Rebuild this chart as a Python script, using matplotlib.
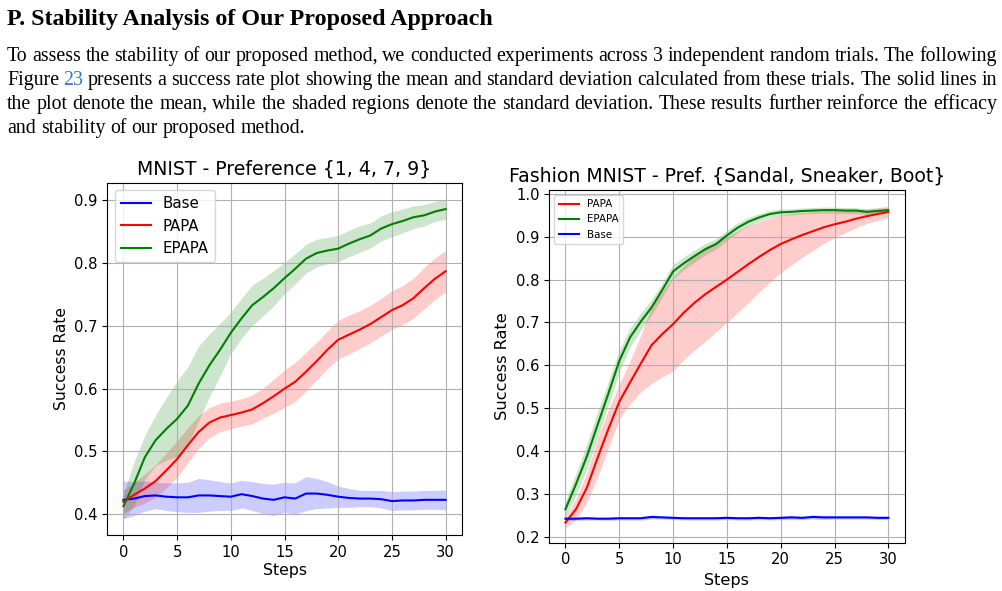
import matplotlib
matplotlib.use('Agg')
import matplotlib.pyplot as plt
from matplotlib.ticker import MultipleLocator

##### DATA #####

steps = list(range(31))

# MNIST - Preference {1, 4, 7, 9}
mnist_base_mean = [0.423, 0.425, 0.429, 0.430, 0.428, 0.427, 0.427, 0.430, 0.430, 0.429, 0.428, 0.432, 0.429, 0.425, 0.423,
                   0.427, 0.425, 0.433, 0.433, 0.431, 0.428, 0.426, 0.425, 0.425, 0.424, 0.421, 0.422, 0.422, 0.423, 0.423, 0.423]
mnist_base_std = [0.030, 0.027, 0.024, 0.021, 0.022, 0.023, 0.024, 0.027, 0.025, 0.023, 0.022, 0.022, 0.023, 0.024, 0.025,
                  0.024, 0.025, 0.027, 0.024, 0.021, 0.017, 0.015, 0.013, 0.013, 0.014, 0.015, 0.015, 0.015, 0.015, 0.015, 0.016]
mnist_papa_mean = [0.420, 0.431, 0.441, 0.453, 0.470, 0.488, 0.510, 0.531, 0.546, 0.554, 0.558, 0.562, 0.567, 0.577, 0.588,
                   0.600, 0.611, 0.627, 0.644, 0.662, 0.678, 0.686, 0.694, 0.703, 0.714, 0.725, 0.733, 0.744, 0.760, 0.775, 0.787]
mnist_papa_std = [0.018, 0.020, 0.023, 0.026, 0.028, 0.029, 0.028, 0.026, 0.024, 0.023, 0.022, 0.022, 0.023, 0.024, 0.027,
                  0.030, 0.031, 0.031, 0.030, 0.030, 0.031, 0.031, 0.030, 0.030, 0.030, 0.031, 0.031, 0.032, 0.033, 0.033, 0.033]
mnist_epapa_mean = [0.413, 0.449, 0.491, 0.518, 0.536, 0.552, 0.573, 0.608, 0.637, 0.662, 0.689, 0.712, 0.733, 0.746, 0.760,
                    0.776, 0.791, 0.807, 0.816, 0.820, 0.823, 0.831, 0.838, 0.844, 0.855, 0.862, 0.867, 0.873, 0.876, 0.882, 0.886]
mnist_epapa_std = [0.020, 0.035, 0.035, 0.040, 0.050, 0.060, 0.062, 0.060, 0.050, 0.042, 0.033, 0.032, 0.032, 0.030, 0.028,
                   0.025, 0.024, 0.023, 0.022, 0.021, 0.021, 0.021, 0.021, 0.020, 0.020, 0.020, 0.019, 0.018, 0.017, 0.016, 0.016]

# Fashion MNIST - Pref. {Sandal, Sneaker, Boot}
fashion_papa_mean = [0.233, 0.265, 0.315, 0.385, 0.452, 0.515, 0.560, 0.604, 0.647, 0.673, 0.696, 0.723, 0.746, 0.766, 0.783,
                     0.800, 0.818, 0.836, 0.853, 0.869, 0.883, 0.894, 0.904, 0.913, 0.922, 0.929, 0.935, 0.942, 0.948, 0.953, 0.958]
fashion_papa_std = [0.012, 0.025, 0.035, 0.045, 0.045, 0.040, 0.050, 0.066, 0.090, 0.100, 0.110, 0.110, 0.110, 0.110, 0.105,
                    0.100, 0.095, 0.090, 0.082, 0.075, 0.067, 0.060, 0.052, 0.045, 0.038, 0.031, 0.026, 0.021, 0.017, 0.015, 0.013]
fashion_epapa_mean = [0.264, 0.324, 0.388, 0.462, 0.535, 0.610, 0.665, 0.702, 0.735, 0.776, 0.819, 0.838, 0.855, 0.871, 0.883,
                      0.903, 0.921, 0.935, 0.945, 0.953, 0.957, 0.958, 0.960, 0.961, 0.962, 0.962, 0.961, 0.961, 0.958, 0.960, 0.962]
fashion_epapa_std = [0.020, 0.025, 0.030, 0.030, 0.028, 0.025, 0.022, 0.020, 0.018, 0.017, 0.016, 0.015, 0.014, 0.013, 0.012,
                     0.012, 0.011, 0.010, 0.009, 0.008, 0.008, 0.007, 0.007, 0.007, 0.007, 0.007, 0.007, 0.007, 0.006, 0.006, 0.006]
fashion_base_mean = [0.242, 0.242, 0.243, 0.242, 0.242, 0.243, 0.243, 0.243, 0.246, 0.245, 0.244, 0.243, 0.243, 0.243, 0.243,
                     0.244, 0.243, 0.243, 0.244, 0.243, 0.244, 0.245, 0.244, 0.246, 0.245, 0.245, 0.245, 0.245, 0.245, 0.244, 0.244]
fashion_base_std = [0.004, 0.004, 0.004, 0.003, 0.004, 0.004, 0.004, 0.004, 0.005, 0.004, 0.004, 0.004, 0.004, 0.004, 0.004,
                    0.004, 0.004, 0.004, 0.004, 0.004, 0.004, 0.005, 0.004, 0.005, 0.005, 0.004, 0.004, 0.004, 0.004, 0.004, 0.004]

heading = "P. Stability Analysis of Our Proposed Approach"
paragraph = [
    "To assess the stability of our proposed method, we conducted experiments across 3 independent random trials. The following",
    "Figure 23 presents a success rate plot showing the mean and standard deviation calculated from these trials. The solid lines in",
    "the plot denote the mean, while the shaded regions denote the standard deviation. These results further reinforce the efficacy",
    "and stability of our proposed method.",
]
link_word = "23"

##### FIGURE #####

W, H = 1002, 591
fig = plt.figure(figsize=(W / 100, H / 100), dpi=100)
renderer = fig.canvas.get_renderer()
SERIF = 'Liberation Serif'


def fit_size(text, width_px, **kw):
    # measure at 10pt, then scale to the wanted pixel width
    t = fig.text(0, 0, text, fontsize=10, **kw)
    w = t.get_window_extent(renderer).width
    t.remove()
    return 10 * width_px / w


def draw_line(line, baseline_px, size, left=7, right=997, justify=True):
    words = line.split(' ')
    texts = []
    for w in words:
        color = '#3a78c3' if w == link_word else 'black'
        texts.append(fig.text(0, 1 - baseline_px / H, w, fontsize=size, family=SERIF,
                              color=color, va='baseline', ha='left'))
    widths = [t.get_window_extent(renderer).width for t in texts]
    if justify:
        gap = (right - left - sum(widths)) / (len(words) - 1)
    else:
        gap = 0.25 * size * 100 / 72
    x = left
    for t, wd in zip(texts, widths):
        t.set_x(x / W)
        x += wd + gap


head_size = fit_size(heading, 486, family=SERIF, fontweight='bold')
fig.text(7 / W, 1 - 25 / H, heading, fontsize=head_size, family=SERIF, fontweight='bold', va='baseline')

body_size = fit_size(paragraph[3], 297, family=SERIF)
for i, line in enumerate(paragraph):
    draw_line(line, 61 + 24 * i, body_size, justify=(i < len(paragraph) - 1))

# left: MNIST
ax1 = fig.add_axes([107.3 / W, 1 - 535 / H, (461.7 - 107.3) / W, (535 - 182.7) / H])
lo = [m - s for m, s in zip(mnist_base_mean, mnist_base_std)]
hi = [m + s for m, s in zip(mnist_base_mean, mnist_base_std)]
ax1.plot(steps, mnist_base_mean, color='blue', label='Base')
ax1.fill_between(steps, lo, hi, color='blue', alpha=0.2, lw=0)
lo = [m - s for m, s in zip(mnist_papa_mean, mnist_papa_std)]
hi = [m + s for m, s in zip(mnist_papa_mean, mnist_papa_std)]
ax1.plot(steps, mnist_papa_mean, color='red', label='PAPA')
ax1.fill_between(steps, lo, hi, color='red', alpha=0.2, lw=0)
lo = [m - s for m, s in zip(mnist_epapa_mean, mnist_epapa_std)]
hi = [m + s for m, s in zip(mnist_epapa_mean, mnist_epapa_std)]
ax1.plot(steps, mnist_epapa_mean, color='green', label='EPAPA')
ax1.fill_between(steps, lo, hi, color='green', alpha=0.2, lw=0)

ax1.set_xlim(-1.5, 31.5)
ax1.set_ylim(0.367, 0.928)
ax1.xaxis.set_major_locator(MultipleLocator(5))
ax1.yaxis.set_major_locator(MultipleLocator(0.1))
ax1.grid(True)
ax1.tick_params(labelsize=10.6)
ax1.set_title('MNIST - Preference {1, 4, 7, 9}', fontsize=13.6)
ax1.set_xlabel('Steps', fontsize=11.3, labelpad=2)
ax1.set_ylabel('Success Rate', fontsize=11.2)
ax1.legend(loc='upper left', fontsize=10.8)

# right: Fashion MNIST
ax2 = fig.add_axes([549.3 / W, 1 - 542.7 / H, (904.5 - 549.3) / W, (542.7 - 190) / H])
lo = [m - s for m, s in zip(fashion_papa_mean, fashion_papa_std)]
hi = [m + s for m, s in zip(fashion_papa_mean, fashion_papa_std)]
ax2.plot(steps, fashion_papa_mean, color='red', label='PAPA')
ax2.fill_between(steps, lo, hi, color='red', alpha=0.2, lw=0)
lo = [m - s for m, s in zip(fashion_epapa_mean, fashion_epapa_std)]
hi = [m + s for m, s in zip(fashion_epapa_mean, fashion_epapa_std)]
ax2.plot(steps, fashion_epapa_mean, color='green', label='EPAPA')
ax2.fill_between(steps, lo, hi, color='green', alpha=0.2, lw=0)
lo = [m - s for m, s in zip(fashion_base_mean, fashion_base_std)]
hi = [m + s for m, s in zip(fashion_base_mean, fashion_base_std)]
ax2.plot(steps, fashion_base_mean, color='blue', label='Base')
ax2.fill_between(steps, lo, hi, color='blue', alpha=0.2, lw=0)

ax2.set_xlim(-1.5, 31.5)
ax2.set_ylim(0.186, 1.009)
ax2.xaxis.set_major_locator(MultipleLocator(5))
ax2.yaxis.set_major_locator(MultipleLocator(0.1))
ax2.grid(True)
ax2.tick_params(labelsize=10.6)
ax2.set_title('Fashion MNIST - Pref. {Sandal, Sneaker, Boot}', fontsize=13.6)
ax2.set_xlabel('Steps', fontsize=11.6)
ax2.set_ylabel('Success Rate', fontsize=11.7)
ax2.legend(loc='upper left', fontsize=7.4)

fig.savefig('out.png', dpi=100)
